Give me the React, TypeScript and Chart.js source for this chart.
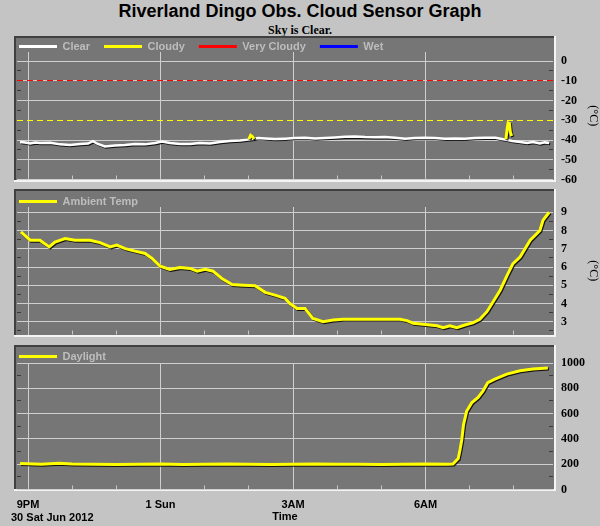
import React, { useEffect, useRef } from 'react';
import { Chart, registerables } from 'chart.js';

Chart.register(...registerables);

// ---------------- text ----------------
const TITLE = 'Riverland Dingo Obs. Cloud Sensor Graph';
const SUBTITLE = 'Sky is Clear.';
const DATE_LABEL = '30 Sat Jun 2012';
const X_AXIS_TITLE = 'Time';
const TEMP_UNIT = '(°C)';

// time axis: hours after 9 PM (30 Jun 2012)
const X_TICK_HOURS = [0, 3, 6, 9];
const X_TICK_LABELS = ['9PM', '1 Sun', '3AM', '6AM'];
const X_MIN = -0.25;
const X_MAX = 11.886;

// ---------------- panel 1: cloud sensor (sky - ambient, °C) ----------------
const CLEAR_HOURS = [
  -0.18, -0.07, 0.05, 0.16, 0.27, 0.5, 0.72, 0.95, 1.18, 1.36,
  1.47, 1.58, 1.74, 1.97, 2.2, 2.42, 2.65, 2.88, 3.03, 3.21,
  3.44, 3.67, 3.89, 4.12, 4.35, 4.57, 4.8, 4.98, 5.12, 5.21,
  5.37, 5.59, 5.82, 6.04, 6.27, 6.5, 6.72, 6.95, 7.18, 7.4,
  7.63, 7.86, 8.08, 8.31, 8.54, 8.76, 8.99, 9.21, 9.44, 9.67,
  9.89, 10.12, 10.35, 10.58, 10.73, 10.8, 10.91, 10.96, 11.14, 11.3,
  11.43, 11.59, 11.7, 11.8,
];
const CLEAR_VALUES = [
  -41, -41.3, -41.8, -41.3, -41.5, -41.4, -42.2, -42.5, -42, -41.8,
  -40.6, -42, -43.3, -42.8, -42.5, -42, -42.2, -41.5, -40.8, -41.5,
  -42, -42, -41.5, -41.8, -41, -40.5, -40.2, -39.8, -39.4, -39,
  -39.2, -39.5, -39.3, -39, -38.8, -39.2, -39, -38.7, -38.3, -38.2,
  -38.5, -38.6, -38.5, -38.8, -39.3, -39, -38.9, -39, -39.3, -39.2,
  -39.3, -39, -38.8, -38.9, -39.5, -39.8, -40.2, -40.5, -41, -41.5,
  -41, -41.8, -41.2, -41.5,
];
const CLOUDY_HOURS = [5.0, 5.04, 5.08, 5.12, 7.0, 10.82, 10.85, 10.87, 10.9, 10.92, 10.95];
const CLOUDY_VALUES = [-39.6, -37.6, -38.3, -39.4, null, -39.6, -34, -31.3, -31.6, -36, -38];
const VERY_CLOUDY_HOURS: number[] = [];
const VERY_CLOUDY_VALUES: number[] = [];
const WET_HOURS: number[] = [];
const WET_VALUES: number[] = [];
const THRESHOLD_VALUES = [-10, -30];

// ---------------- panel 2: ambient temperature (°C) ----------------
const TEMP_HOURS = [
  -0.16, 0.05, 0.27, 0.48, 0.61, 0.84, 1.06, 1.4, 1.63, 1.86,
  2.01, 2.2, 2.42, 2.65, 2.81, 2.99, 3.21, 3.44, 3.67, 3.83,
  4.01, 4.19, 4.39, 4.62, 4.87, 5.14, 5.37, 5.59, 5.82, 5.93,
  6.09, 6.27, 6.45, 6.68, 6.91, 7.13, 7.52, 7.97, 8.42, 8.58,
  8.72, 8.94, 9.26, 9.4, 9.55, 9.71, 9.89, 10.07, 10.23, 10.39,
  10.46, 10.69, 10.85, 10.98, 11.14, 11.37, 11.59, 11.66, 11.8,
];
const TEMP_VALUES = [
  7.92, 7.47, 7.47, 7.1, 7.37, 7.56, 7.47, 7.47, 7.34, 7.1,
  7.2, 7.01, 6.87, 6.74, 6.47, 6.05, 5.87, 5.97, 5.92, 5.77,
  5.88, 5.77, 5.37, 5.04, 5.0, 4.97, 4.61, 4.46, 4.28, 4.0,
  3.73, 3.73, 3.18, 3.0, 3.09, 3.13, 3.13, 3.14, 3.13, 3.06,
  2.92, 2.86, 2.78, 2.67, 2.78, 2.67, 2.82, 2.94, 3.13, 3.55,
  3.82, 4.73, 5.55, 6.19, 6.55, 7.47, 8.0, 8.56, 9.0,
];

// ---------------- panel 3: daylight ----------------
const DAYLIGHT_HOURS = [
  -0.18, 0.3, 0.7, 1.0, 1.5, 2.0, 2.5, 3.0, 3.5, 4.0,
  4.5, 5.0, 5.5, 6.0, 6.5, 7.0, 7.5, 8.0, 8.5, 9.0,
  9.5, 9.62, 9.74, 9.78, 9.82, 9.86, 9.93, 10.05, 10.19, 10.3,
  10.41, 10.57, 10.84, 11.14, 11.43, 11.77,
];
const DAYLIGHT_VALUES = [
  205, 200, 208, 202, 200, 198, 200, 202, 198, 200,
  202, 200, 198, 200, 202, 200, 200, 198, 200, 202,
  200, 202, 245, 312, 392, 512, 618, 688, 728, 778,
  845, 872, 912, 938, 952, 960,
];

// ---------------- styling ----------------
const SANS = '"Liberation Sans", Arial, Helvetica, sans-serif';
const SERIF = '"Liberation Serif", "Times New Roman", Times, serif';
const PAGE_BG = '#c4c4c4';
const PANEL_BG = '#767676';
const GRID = '#cfcfcf';
const THRESHOLD_COLORS = ['#ff0000', '#ffff00'];
const THRESHOLD_HIDE_GRID = [false, true];

const toPoints = (xs: number[], ys: (number | null)[]) => xs.map((x, i) => ({ x, y: ys[i] }));
// same pixel alignment Chart.js uses for 1px grid lines
const align1 = (p: number) => Math.round(p - 0.5) + 0.5;

type SeriesSpec = { label: string; hours: number[]; values: (number | null)[]; color: string; width: number };
type PanelSpec = {
  canvasTop: number; canvasH: number; panelTop: number; panelBottom: number;
  legendH: number; padBottom: number; xAxisH: number; showX: boolean;
  yMin: number; yMax: number; yStep: number; yTitle: string | null;
  series: SeriesSpec[]; thresholds: boolean;
};

function makePlugins(spec: PanelSpec) {
  const panel = {
    id: 'panelFrame',
    beforeInit(chart: any) {
      const lg = chart.legend;
      if (lg && !lg.__patched) {
        const orig = lg.fit;
        lg.fit = function () { orig.call(this); this.height = spec.legendH; };
        lg.__patched = true;
      }
    },
    beforeDraw(chart: any) {
      const ctx = chart.ctx;
      const x0 = 14, x1 = 556, y0 = spec.panelTop, y1 = spec.panelBottom;
      ctx.save();
      ctx.fillStyle = PANEL_BG;
      ctx.fillRect(x0, y0, x1 - x0, y1 - y0);
      ctx.fillStyle = '#404040';
      ctx.fillRect(x0, y0, x1 - x0, 2);
      ctx.fillRect(x0, y0, 2, y1 - y0);
      ctx.fillStyle = '#f4f4f4';
      ctx.fillRect(x0, y1 - 2, x1 - x0, 2);
      ctx.fillRect(x1 - 2, y0, 2, y1 - y0);
      ctx.restore();
      if (chart.legend) chart.legend.left = 5;
    },
  };
  const extras = {
    id: 'panelExtras',
    beforeDatasetsDraw(chart: any) {
      const { ctx, chartArea: a, scales } = chart;
      const y = scales.y, x = scales.x;
      ctx.save();
      ctx.lineWidth = 1;
      // minor y ticks at half steps, both sides
      ctx.strokeStyle = '#3a3a3a';
      const step = spec.yStep;
      const first = y.ticks.length ? y.ticks[0].value : spec.yMin;
      for (let v = first - step / 2; v <= spec.yMax; v += step) {
        if (v < spec.yMin) continue;
        const py = align1(y.getPixelForValue(v));
        ctx.beginPath();
        ctx.moveTo(a.left, py); ctx.lineTo(a.left + 4, py);
        ctx.moveTo(a.right - 4, py); ctx.lineTo(a.right, py);
        ctx.stroke();
      }
      // minor x ticks every hour along the bottom
      ctx.strokeStyle = '#c8c8c8';
      for (let h = Math.ceil(X_MIN); h <= X_MAX; h += 1) {
        const px = align1(x.getPixelForValue(h));
        ctx.beginPath();
        ctx.moveTo(px, a.bottom); ctx.lineTo(px, a.bottom - 4);
        ctx.stroke();
      }
      if (spec.thresholds) {
        ctx.setLineDash([6, 4]);
        THRESHOLD_VALUES.forEach((v, i) => {
          const py = align1(y.getPixelForValue(v));
          ctx.strokeStyle = THRESHOLD_COLORS[i];
          ctx.beginPath();
          ctx.moveTo(a.left, py); ctx.lineTo(a.right, py);
          ctx.stroke();
        });
      }
      ctx.restore();
    },
    beforeDatasetDraw(chart: any) {
      const ctx = chart.ctx;
      ctx.save();
      ctx.shadowColor = 'rgba(0,0,0,0.85)';
      ctx.shadowOffsetX = 1;
      ctx.shadowOffsetY = 1;
      ctx.shadowBlur = 0;
    },
    afterDatasetDraw(chart: any) {
      chart.ctx.restore();
    },
  };
  return [panel, extras];
}

function makeConfig(spec: PanelSpec): any {
  const n = spec.series.length;
  return {
    type: 'line',
    data: {
      datasets: spec.series.map((s, i) => ({
        label: s.label,
        data: toPoints(s.hours, s.values),
        borderColor: s.color,
        backgroundColor: s.color,
        borderWidth: s.width,
        pointRadius: 0,
        tension: 0,
        fill: false,
        spanGaps: false,
        order: n - i,
      })),
    },
    options: {
      animation: false,
      responsive: false,
      devicePixelRatio: 1,
      events: [],
      layout: { padding: { left: 17, right: 0, top: 0, bottom: spec.padBottom } },
      plugins: {
        legend: {
          display: true,
          position: 'top',
          align: 'start',
          labels: {
            boxWidth: 38,
            boxHeight: 3,
            padding: 14,
            color: '#bdbdbd',
            font: { family: SANS, size: 11, weight: 'bold' },
            sort: (a: any, b: any) => a.datasetIndex - b.datasetIndex,
            generateLabels: (chart: any) =>
              (Chart.defaults as any).plugins.legend.labels
                .generateLabels(chart)
                .map((l: any) => ({ ...l, fillStyle: l.strokeStyle, lineWidth: 0, hidden: false })),
          },
        },
        tooltip: { enabled: false },
        title: { display: false },
      },
      scales: {
        x: {
          type: 'linear',
          min: X_MIN,
          max: X_MAX,
          border: { display: false },
          grid: { color: GRID, lineWidth: 1, drawTicks: false },
          ticks: {
            display: spec.showX,
            stepSize: 3,
            includeBounds: false,
            autoSkip: false,
            maxRotation: 0,
            padding: 9,
            color: '#000',
            font: { family: SANS, size: 11, weight: 'bold' },
            callback: (v: any) => {
              const i = X_TICK_HOURS.indexOf(Number(v));
              return i >= 0 ? X_TICK_LABELS[i] : '';
            },
          },
          title: {
            display: spec.showX,
            text: X_AXIS_TITLE,
            padding: 0,
            color: '#000',
            font: { family: SANS, size: 11, weight: 'bold' },
          },
          afterFit: (s: any) => { s.height = spec.xAxisH; },
        },
        y: {
          type: 'linear',
          position: 'right',
          min: spec.yMin,
          max: spec.yMax,
          border: { display: false },
          grid: {
            lineWidth: 1,
            drawTicks: false,
            color: (c: any) => {
              if (!spec.thresholds || !c.tick) return GRID;
              const i = THRESHOLD_VALUES.indexOf(c.tick.value);
              return i >= 0 && THRESHOLD_HIDE_GRID[i] ? 'rgba(0,0,0,0)' : GRID;
            },
          },
          ticks: {
            stepSize: spec.yStep,
            includeBounds: false,
            padding: 8,
            color: '#000',
            font: { family: SERIF, size: 12, weight: 'bold' },
            callback: (v: any) => String(v),
          },
          title: {
            display: !!spec.yTitle,
            text: spec.yTitle || '',
            padding: 0,
            color: '#000',
            font: { family: SERIF, size: 12 },
          },
          afterFit: (s: any) => { s.width = 47; },
        },
      },
    },
    plugins: makePlugins(spec),
  };
}

const PANELS: PanelSpec[] = [
  {
    canvasTop: 27, canvasH: 170, panelTop: 9, panelBottom: 155, legendH: 25, padBottom: 17.5,
    xAxisH: 0, showX: false, yMin: -60, yMax: 4.6, yStep: 10, yTitle: TEMP_UNIT, thresholds: true,
    series: [
      { label: 'Clear', hours: CLEAR_HOURS, values: CLEAR_VALUES, color: '#ffffff', width: 2.5 },
      { label: 'Cloudy', hours: CLOUDY_HOURS, values: CLOUDY_VALUES, color: '#ffff00', width: 3 },
      { label: 'Very Cloudy', hours: VERY_CLOUDY_HOURS, values: VERY_CLOUDY_VALUES, color: '#ff0000', width: 3 },
      { label: 'Wet', hours: WET_HOURS, values: WET_VALUES, color: '#0000ff', width: 3 },
    ],
  },
  {
    canvasTop: 182, canvasH: 170, panelTop: 7, panelBottom: 155, legendH: 25, padBottom: 17.5,
    xAxisH: 0, showX: false, yMin: 2.3, yMax: 9.29, yStep: 1, yTitle: TEMP_UNIT, thresholds: false,
    series: [{ label: 'Ambient Temp', hours: TEMP_HOURS, values: TEMP_VALUES, color: '#ffff00', width: 3 }],
  },
  {
    canvasTop: 337, canvasH: 189, panelTop: 8, panelBottom: 154, legendH: 26, padBottom: 2,
    xAxisH: 34.5, showX: true, yMin: 0, yMax: 1000, yStep: 200, yTitle: null, thresholds: false,
    series: [{ label: 'Daylight', hours: DAYLIGHT_HOURS, values: DAYLIGHT_VALUES, color: '#ffff00', width: 3 }],
  },
];

function Panel({ spec, z }: { spec: PanelSpec; z: number }) {
  const ref = useRef<HTMLCanvasElement>(null);
  useEffect(() => {
    const canvas = ref.current;
    if (!canvas) return;
    const chart = new Chart(canvas, makeConfig(spec));
    return () => chart.destroy();
  }, [spec]);
  return (
    <canvas
      ref={ref}
      width={600}
      height={spec.canvasH}
      style={{ position: 'absolute', left: 0, top: spec.canvasTop, width: 600, height: spec.canvasH, zIndex: z }}
    />
  );
}

export default function App() {
  return (
    <div
      style={{
        position: 'absolute', left: 0, top: 0, width: 600, height: 526,
        background: PAGE_BG, overflow: 'hidden',
      }}
    >
      <div
        style={{
          position: 'absolute', left: 0, top: 2, width: 600, textAlign: 'center',
          font: `bold 18px ${SANS}`, lineHeight: '18px', color: '#000',
        }}
      >
        {TITLE}
      </div>
      <div
        style={{
          position: 'absolute', left: 0, top: 24, width: 600, textAlign: 'center',
          font: `bold 12px ${SERIF}`, lineHeight: '12px', color: '#000',
        }}
      >
        {SUBTITLE}
      </div>
      {PANELS.map((p, i) => (
        <Panel key={i} spec={p} z={i + 1} />
      ))}
      <div
        style={{
          position: 'absolute', left: 11, top: 511, whiteSpace: 'nowrap', zIndex: 10,
          font: `bold 11px ${SANS}`, lineHeight: '13px', color: '#000',
        }}
      >
        {DATE_LABEL}
      </div>
    </div>
  );
}
